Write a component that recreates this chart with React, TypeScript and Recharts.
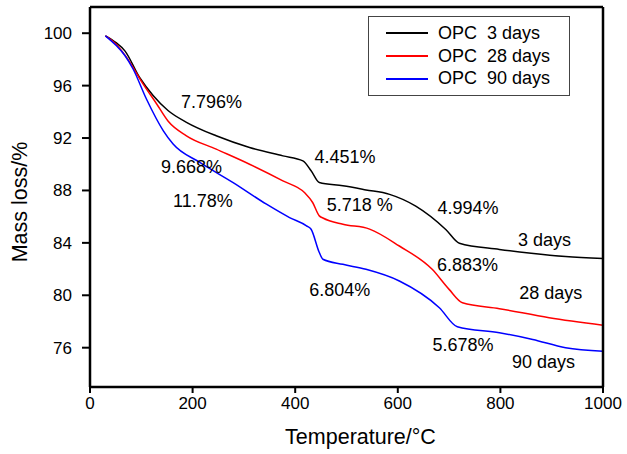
import { LineChart, Line, XAxis, YAxis, ReferenceDot, Legend } from "recharts"

const FONT = "'Liberation Sans', Arial, Helvetica, sans-serif"

// OPC 3 days
const temp3 = [30, 50, 68, 97, 123, 152, 188, 246, 311, 376, 415, 431, 447, 493, 538, 584, 635, 694, 720, 798, 860, 927, 1000]
const mass3 = [99.8, 99.3, 98.65, 96.6, 95.25, 94.1, 93.2, 92.17, 91.28, 90.64, 90.26, 89.5, 88.6, 88.35, 88.04, 87.7, 86.8, 85.0, 83.97, 83.5, 83.2, 82.95, 82.8]

// OPC 28 days
const temp28 = [30, 50, 71, 104, 130, 152, 188, 246, 311, 376, 418, 434, 447, 454, 493, 545, 603, 667, 700, 726, 798, 895, 1000]
const mass28 = [99.8, 99.2, 98.17, 96.1, 94.6, 93.3, 92.17, 91.15, 90.0, 88.73, 87.84, 87.08, 86.06, 85.9, 85.42, 85.05, 83.76, 81.98, 80.45, 79.43, 78.98, 78.29, 77.72]

// OPC 90 days
const temp90 = [30, 50, 68, 84, 110, 143, 162, 214, 279, 344, 389, 422, 431, 447, 454, 493, 538, 603, 681, 716, 798, 863, 927, 1000]
const mass90 = [99.8, 99.1, 98.3, 97.27, 94.98, 92.55, 91.54, 90.14, 88.6, 86.95, 85.93, 85.3, 85.04, 83.26, 82.75, 82.36, 81.98, 81.09, 79.05, 77.6, 77.14, 76.63, 76.0, 75.73]

const xMajor = [0, 200, 400, 600, 800, 1000]
const xMinor = [100, 300, 500, 700, 900]
const xTop = [100, 200, 300, 400, 500, 600, 700, 800, 900]
const yTicks = [76, 80, 84, 88, 92, 96, 100]

// text notes on the plot
const noteText = ["7.796%", "9.668%", "11.78%", "4.451%", "5.718 %", "4.994%", "6.804%", "6.883%", "5.678%", "3 days", "28 days", "90 days"]
const noteTemp = [237, 198, 220, 497, 526, 737, 487, 736, 727, 886, 898, 884]
const noteMass = [94.75, 89.85, 87.25, 90.62, 86.95, 86.72, 80.45, 82.36, 76.25, 84.27, 80.22, 74.9]

const toPoints = (t: number[], m: number[]) => t.map((v, i) => ({ t: v, m: m[i] }))

const series = [
  { name: "OPC  3 days", color: "#000000", data: toPoints(temp3, mass3) },
  { name: "OPC  28 days", color: "#ff0000", data: toPoints(temp28, mass28) },
  { name: "OPC  90 days", color: "#0000ff", data: toPoints(temp90, mass90) },
]

// tick lines only, no label
const NoLabel = () => null

const XTitle = ({ viewBox }: any) => (
  <text x={viewBox.x + viewBox.width / 2 + 14} y={444} textAnchor="middle" fontSize={21.5} fontFamily={FONT} fill="#000">
    Temperature/°C
  </text>
)

const YTitle = ({ viewBox }: any) => {
  const cy = viewBox.y + viewBox.height / 2 + 5
  return (
    <text x={26.5} y={cy} transform={`rotate(-90, 26.5, ${cy})`} textAnchor="middle" fontSize={21.5} fontFamily={FONT} fill="#000">
      Mass loss/%
    </text>
  )
}

const LegendBox = () => (
  <div
    style={{
      width: 202,
      height: 80,
      boxSizing: "border-box",
      border: "1px solid #444",
      background: "#fff",
      paddingTop: 5,
      fontFamily: FONT,
      fontSize: 18,
    }}
  >
    {series.map((s) => (
      <div key={s.name} style={{ display: "flex", alignItems: "center", height: 22.8 }}>
        <div style={{ width: 42, height: 2, background: s.color, marginLeft: 17, marginRight: 10 }} />
        <span style={{ whiteSpace: "pre", color: "#000" }}>{s.name}</span>
      </div>
    ))}
  </div>
)

export default function App() {
  return (
    <div style={{ position: "absolute", left: 0, top: 0, background: "#fff" }}>
      <LineChart width={627} height={454} margin={{ top: 7, right: 23, bottom: 0, left: 0 }}>
        <XAxis
          xAxisId="minor"
          type="number"
          domain={[0, 1000]}
          ticks={xMinor}
          interval={0}
          height={1}
          tickSize={3}
          tick={<NoLabel />}
          axisLine={false}
          tickLine={{ stroke: "#000", strokeWidth: 2 }}
        />
        <XAxis
          dataKey="t"
          type="number"
          domain={[0, 1000]}
          ticks={xMajor}
          interval={0}
          allowDataOverflow
          height={66}
          tickSize={6}
          tickMargin={4}
          tickLine={{ stroke: "#000", strokeWidth: 2 }}
          tick={{ fontSize: 17, fontFamily: FONT, fill: "#000" }}
          axisLine={{ stroke: "#000", strokeWidth: 2.5 }}
          label={<XTitle />}
        />
        <XAxis
          xAxisId="top"
          orientation="top"
          type="number"
          domain={[0, 1000]}
          ticks={xTop}
          interval={0}
          height={1}
          mirror
          tickSize={3}
          tick={<NoLabel />}
          tickLine={{ stroke: "#000", strokeWidth: 1.5 }}
          axisLine={{ stroke: "#000", strokeWidth: 2.5 }}
        />
        <YAxis
          type="number"
          domain={[73, 102]}
          ticks={yTicks}
          interval={0}
          allowDataOverflow
          width={90}
          tickSize={8}
          tickMargin={10}
          tickLine={{ stroke: "#000", strokeWidth: 2 }}
          tick={{ fontSize: 17, fontFamily: FONT, fill: "#000" }}
          axisLine={{ stroke: "#000", strokeWidth: 2.5 }}
          label={<YTitle />}
        />
        <YAxis
          yAxisId="right"
          orientation="right"
          type="number"
          domain={[73, 102]}
          width={1}
          tick={<NoLabel />}
          tickLine={false}
          axisLine={{ stroke: "#000", strokeWidth: 2.5 }}
        />
        {series.map((s) => (
          <Line
            key={s.name}
            data={s.data}
            dataKey="m"
            name={s.name}
            type="monotone"
            stroke={s.color}
            strokeWidth={1.5}
            dot={false}
            isAnimationActive={false}
          />
        ))}
        {noteText.map((txt, i) => (
          <ReferenceDot
            key={txt}
            x={noteTemp[i]}
            y={noteMass[i]}
            r={0}
            fill="none"
            stroke="none"
            label={{ value: txt, position: "center", fontSize: 18, fontFamily: FONT, fill: "#000" }}
          />
        ))}
        <Legend
          layout="vertical"
          align="center"
          verticalAlign="middle"
          wrapperStyle={{ top: 16, left: 368, width: 202 }}
          content={<LegendBox />}
        />
      </LineChart>
    </div>
  )
}
